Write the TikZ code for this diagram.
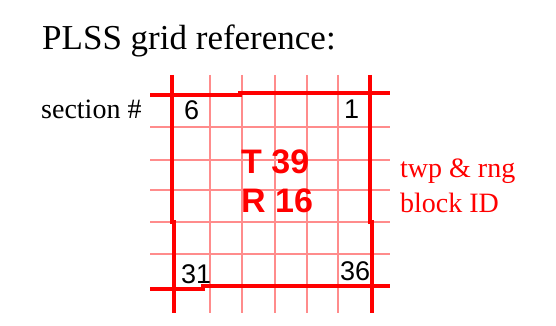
\documentclass[tikz,border=0pt]{standalone}
\usepackage{fontspec}
\setmainfont{Liberation Serif}
\setsansfont{Liberation Sans}
\begin{document}
\begin{tikzpicture}[x=1pt,y=-1pt,
	thinln/.style={red!45,line width=1.8pt},
	thickln/.style={red,line width=4pt},
	secnum/.style={anchor=base west,inner sep=0pt,font=\sffamily\fontsize{27}{30}\selectfont},
	blocktxt/.style={anchor=base west,inner sep=0pt,red,font=\sffamily\bfseries\fontsize{34}{40}\selectfont},
	sidetxt/.style={anchor=base west,inner sep=0pt,font=\fontsize{28}{34}\selectfont}]
	\useasboundingbox (0,0) rectangle (556,326);
	% Tiêu đề
	\node[anchor=base west,inner sep=0pt,font=\fontsize{35}{42}\selectfont] (title) at (42,50) {PLSS grid reference:};
	% Lưới mảnh
	\foreach \x in {210,242,275,307,338} {
		\draw[thinln] (\x,75) -- (\x,313);
	}
	\foreach \y in {127,160,190,222,254} {
		\draw[thinln] (150,\y) -- (390,\y);
	}
	% Đường ranh dày
	\draw[thickln] (150,95) -- (240,95) -- (240,93) -- (390,93);
	\draw[thickln] (150,289) -- (203,289) -- (203,286) -- (390,286);
	\draw[thickln] (172,75) -- (172,222) -- (174,222) -- (174,313);
	\draw[thickln] (370,75) -- (370,222) -- (372,222) -- (372,313);
	% Số thửa
	\node[secnum] (s6) at (184,120) {6};
	\node[secnum] (s1) at (344,118) {1};
	\node[secnum] (s31) at (181,283) {31};
	\node[secnum] (s36) at (340,280) {36};
	% Khối T/R
	\node[blocktxt] (twp) at (241,173) {T 39};
	\node[blocktxt] (rng) at (241,212) {R 16};
	% Chú thích
	\node[sidetxt] (sect) at (41,118) {section \#};
	\node[sidetxt,red] (blk1) at (400,177) {twp \& rng};
	\node[sidetxt,red] (blk2) at (400,212) {block ID};
\end{tikzpicture}
\end{document}
